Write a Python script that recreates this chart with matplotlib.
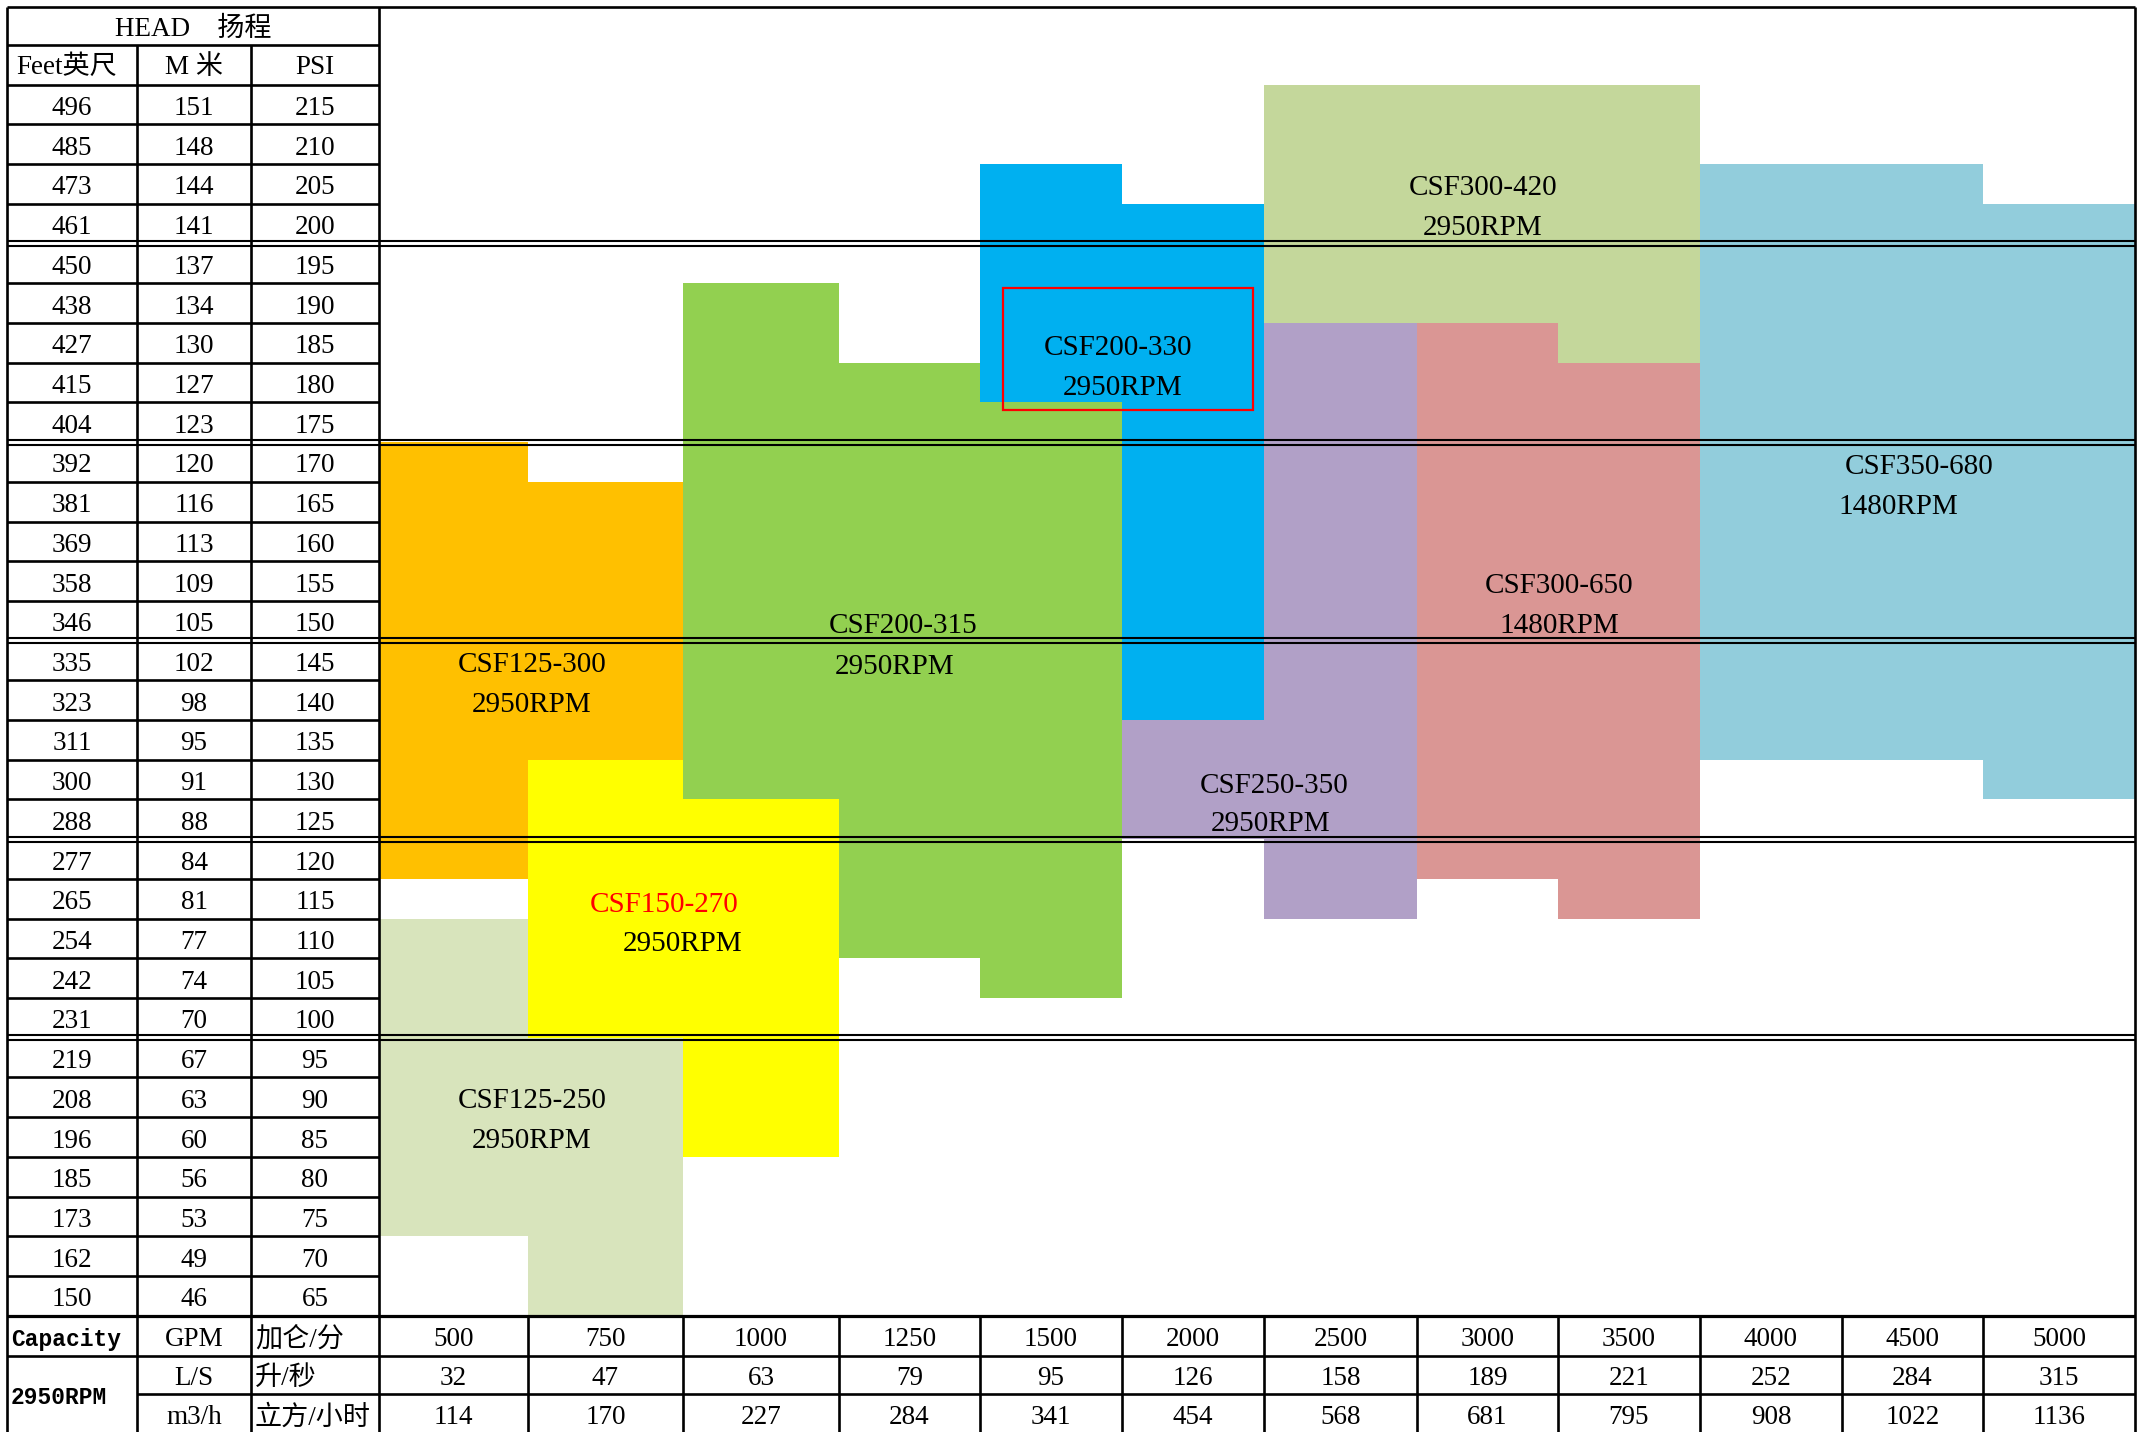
import matplotlib.pyplot as plt
from matplotlib.patches import Rectangle

plt.rcParams['font.family'] = ['Liberation Serif', 'Noto Sans CJK SC']

# head table, top to bottom
feet = [496, 485, 473, 461, 450, 438, 427, 415, 404, 392, 381, 369, 358, 346,
        335, 323, 311, 300, 288, 277, 265, 254, 242, 231, 219, 208, 196, 185,
        173, 162, 150]
meters = [151, 148, 144, 141, 137, 134, 130, 127, 123, 120, 116, 113, 109, 105,
          102, 98, 95, 91, 88, 84, 81, 77, 74, 70, 67, 63, 60, 56, 53, 49, 46]
psi = [215, 210, 205, 200, 195, 190, 185, 180, 175, 170, 165, 160, 155, 150,
       145, 140, 135, 130, 125, 120, 115, 110, 105, 100, 95, 90, 85, 80, 75, 70, 65]

# capacity table
gpm = [500, 750, 1000, 1250, 1500, 2000, 2500, 3000, 3500, 4000, 4500, 5000]
lps = [32, 47, 63, 79, 95, 126, 158, 189, 221, 252, 284, 315]
m3h = [114, 170, 227, 284, 341, 454, 568, 681, 795, 908, 1022, 1136]

# pump coverage: (gpm column, top head ft, bottom head ft)
models = ['CSF125-300', 'CSF125-250', 'CSF150-270', 'CSF200-315', 'CSF200-330',
          'CSF250-350', 'CSF300-650', 'CSF300-420', 'CSF350-680']
speeds = ['2950RPM', '2950RPM', '2950RPM', '2950RPM', '2950RPM',
          '2950RPM', '1480RPM', '2950RPM', '1480RPM']
ranges = [
    [(500, 392, 277), (750, 381, 311)],
    [(500, 254, 173), (750, 219, 150)],
    [(750, 300, 231), (1000, 288, 196)],
    [(1000, 438, 300), (1250, 415, 254), (1500, 404, 242)],
    [(1500, 473, 415), (2000, 461, 323)],
    [(2000, 311, 288), (2500, 427, 265)],
    [(3000, 427, 277), (3500, 415, 265)],
    [(2500, 496, 438), (3000, 496, 438), (3500, 496, 427)],
    [(4000, 473, 311), (4500, 473, 311), (5000, 461, 300)],
]
colors = ['#FFC000', '#D8E4BC', '#FFFF00', '#92D050', '#00B0F0',
          '#B1A0C7', '#DA9694', '#C4D79B', '#92CDDC']
name_colors = ['black', 'black', 'red', 'black', 'black',
               'black', 'black', 'black', 'black']

# layout (pixels)
col_edges = [379, 528, 683, 839, 980, 1122, 1264, 1417, 1558, 1700, 1842, 1983, 2135]
tab_x = [7, 137, 251, 379]
top, sub = 7, 45
y0, rh = 84.7, 39.71
cap_y = [1316, 1355.5, 1394, 1434]
label_pos = [((532, 665), (532, 705)), ((532, 1101), (532, 1141)),
             ((664, 905), (683, 944)), ((903, 626), (895, 667)),
             ((1118, 348), (1123, 388)), ((1274, 786), (1271, 824)),
             ((1559, 586), (1559, 626)), ((1483, 188), (1483, 228)),
             ((1919, 467), (1898, 507))]
doubles = [4, 9, 14, 19, 24]


def row_y(k):
    return y0 + rh * k


fig = plt.figure(figsize=(21.43, 14.32), dpi=100)
ax = fig.add_axes([0, 0, 1, 1])
ax.set_xlim(0, 2143)
ax.set_ylim(1432, 0)
ax.axis('off')

col_of = {g: i for i, g in enumerate(gpm)}
row_of = {f: i for i, f in enumerate(feet)}

for color, segs in zip(colors, ranges):
    for g, ft_top, ft_bot in segs:
        c = col_of[g]
        k0, k1 = row_of[ft_top], row_of[ft_bot] + 1
        ax.bar(col_edges[c], row_y(k1) - row_y(k0), width=col_edges[c + 1] - col_edges[c],
               bottom=row_y(k0), align='edge', color=color, linewidth=0, zorder=1)

for name, spd, ncol, (p1, p2) in zip(models, speeds, name_colors, label_pos):
    ax.text(p1[0], p1[1], name, fontsize=21, color=ncol, ha='center', va='center', zorder=4)
    ax.text(p2[0], p2[1], spd, fontsize=21, color='black', ha='center', va='center', zorder=4)

ax.add_patch(Rectangle((1003, 288), 250, 122, fill=False, ec='red', lw=1.6, zorder=5))

# grid lines
lw = 1.9
ax.hlines(top, tab_x[0], col_edges[-1], color='black', lw=lw, zorder=3)
ax.hlines(sub, tab_x[0], tab_x[-1], color='black', lw=lw, zorder=3)
for k in range(len(feet) + 1):
    y = row_y(k)
    if k in doubles:
        ax.hlines([y - 2.5, y + 2.5], tab_x[0], col_edges[-1], color='black', lw=1.5, zorder=3)
    else:
        ax.hlines(y, tab_x[0], tab_x[-1], color='black', lw=lw, zorder=3)
ax.hlines(cap_y[0], tab_x[0], col_edges[-1], color='black', lw=2.3, zorder=3)
ax.hlines(cap_y[1], tab_x[0], col_edges[-1], color='black', lw=lw, zorder=3)
ax.hlines(cap_y[2], tab_x[1], col_edges[-1], color='black', lw=lw, zorder=3)

ax.vlines([tab_x[0], tab_x[3], col_edges[-1]], top, 1432, color='black', lw=lw, zorder=3)
ax.vlines([tab_x[1], tab_x[2]], sub, 1432, color='black', lw=lw, zorder=3)
ax.vlines(col_edges[1:-1], cap_y[0], 1432, color='black', lw=lw, zorder=3)

# head table text
fs = 19.5
cx = [(tab_x[i] + tab_x[i + 1]) / 2 for i in range(3)]
ax.text((tab_x[0] + tab_x[3]) / 2, (top + sub) / 2 + 3, 'HEAD\u3000扬程', fontsize=fs,
        ha='center', va='center')
ax.text(16, (sub + y0) / 2 + 3, 'Feet英尺', fontsize=fs, ha='left', va='center')
ax.text(cx[1], (sub + y0) / 2 + 3, 'M 米', fontsize=fs, ha='center', va='center')
ax.text(cx[2], (sub + y0) / 2 + 3, 'PSI', fontsize=fs, ha='center', va='center')
for k, (f, m, p) in enumerate(zip(feet, meters, psi)):
    yc = (row_y(k) + row_y(k + 1)) / 2 + 4
    ax.text(cx[0], yc, str(f), fontsize=fs, ha='center', va='center')
    ax.text(cx[1], yc, str(m), fontsize=fs, ha='center', va='center')
    ax.text(cx[2], yc, str(p), fontsize=fs, ha='center', va='center')

# capacity table text
mono = dict(family='Liberation Mono', fontweight='bold', fontsize=16.5)
ry = [(cap_y[i] + cap_y[i + 1]) / 2 + 4 for i in range(3)]
ax.text(11, ry[0], 'Capacity', ha='left', va='center', **mono)
ax.text(11, cap_y[2] + 3, '2950RPM', ha='left', va='center', **mono)
ax.text(cx[1], ry[0], 'GPM', fontsize=fs, ha='center', va='center')
ax.text(cx[1], ry[1], 'L/S', fontsize=fs, ha='center', va='center')
ax.text(cx[1], ry[2], 'm3/h', fontsize=fs, ha='center', va='center')
ax.text(tab_x[2] + 4, ry[0], '加仑/分', fontsize=fs, ha='left', va='center')
ax.text(tab_x[2] + 4, ry[1], '升/秒', fontsize=fs, ha='left', va='center')
ax.text(tab_x[2] + 4, ry[2], '立方/小时', fontsize=fs, ha='left', va='center')
for i, (g, l, m) in enumerate(zip(gpm, lps, m3h)):
    xc = (col_edges[i] + col_edges[i + 1]) / 2
    ax.text(xc, ry[0], str(g), fontsize=fs, ha='center', va='center')
    ax.text(xc, ry[1], str(l), fontsize=fs, ha='center', va='center')
    ax.text(xc, ry[2], str(m), fontsize=fs, ha='center', va='center')

fig.savefig('out.png', dpi=100)
